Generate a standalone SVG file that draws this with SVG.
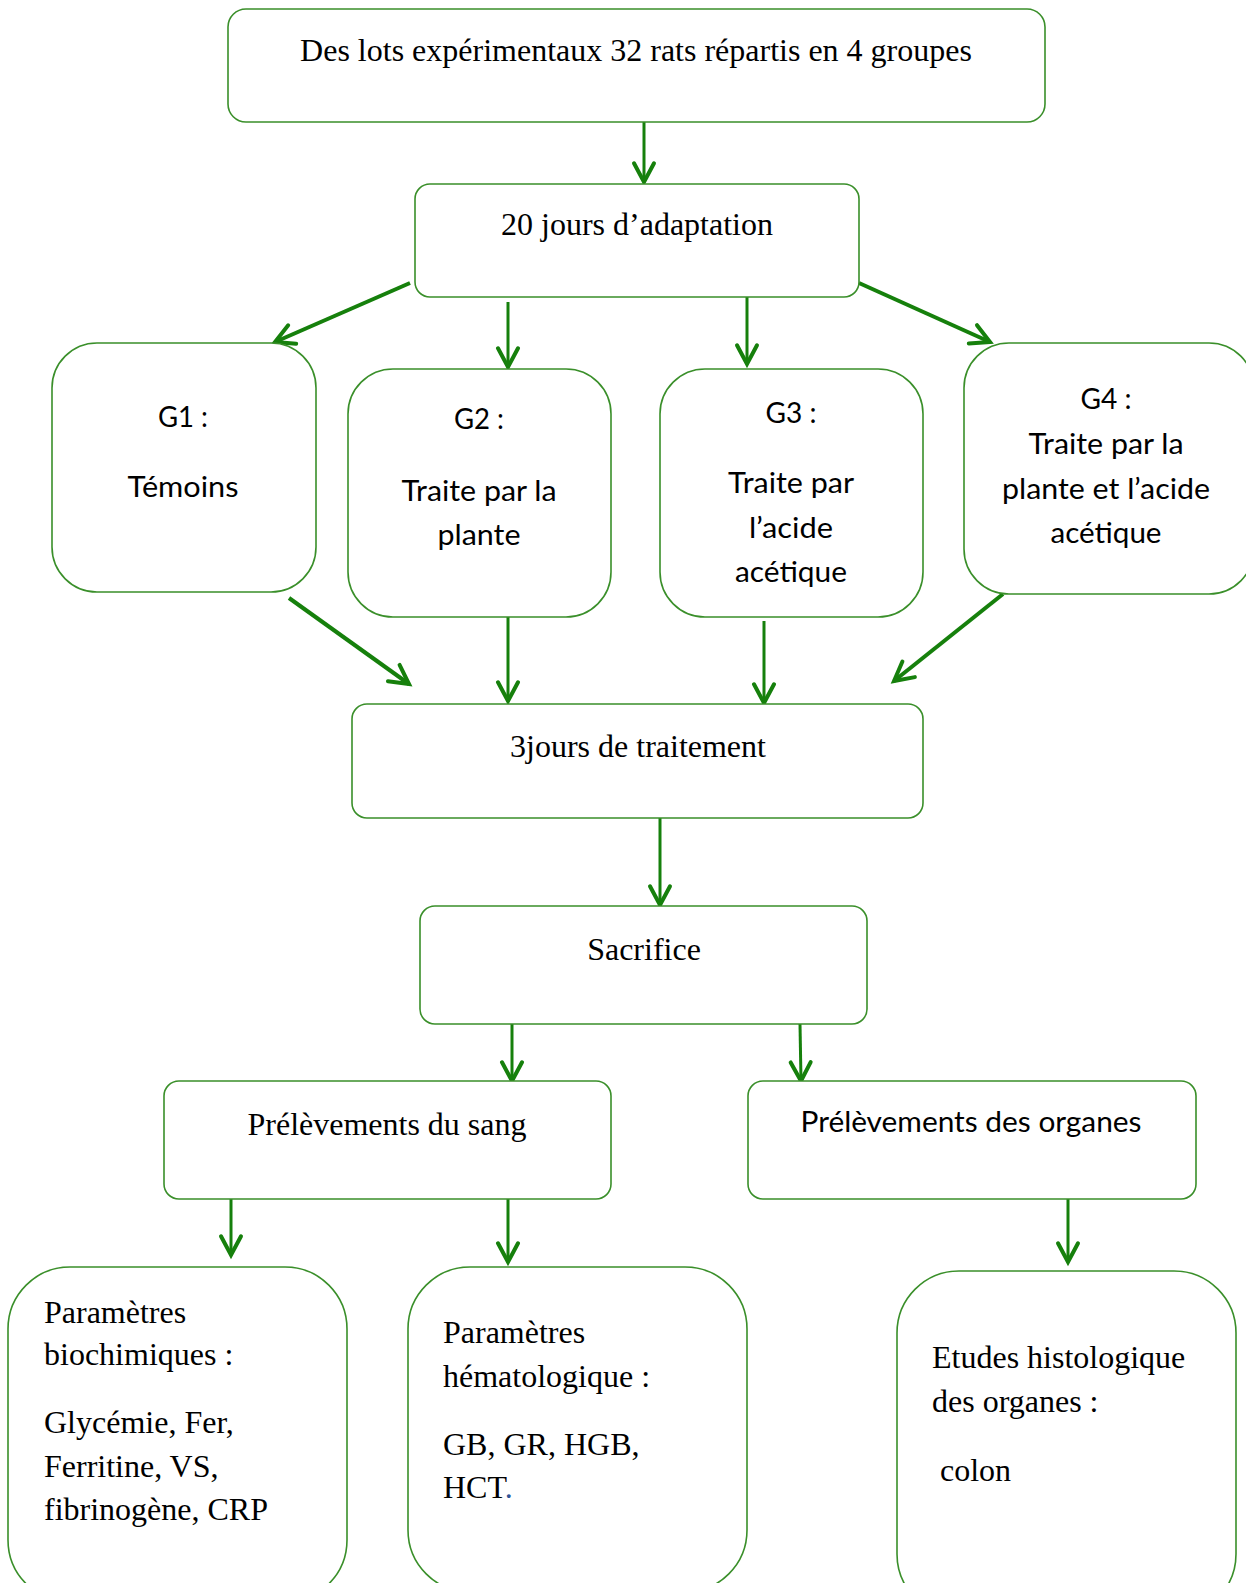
<svg xmlns="http://www.w3.org/2000/svg" width="1246" height="1583" viewBox="0 0 1246 1583">
<style>
.box{fill:#fff;stroke:#3a8f2a;stroke-width:1.6}
.serif{font-family:"Liberation Serif","Times New Roman",serif;font-size:32px;fill:#000}
.sans{font-family:Lato,"Noto Sans",sans-serif;font-size:29px;fill:#000}
.mid{text-anchor:middle}
.conn line{stroke:#16800c;stroke-width:3;fill:none}
.conn line.thick{stroke-width:4}
</style>
<defs>
<marker id="ah" markerUnits="userSpaceOnUse" markerWidth="30" markerHeight="30" viewBox="-18 -12 22 24" refX="0" refY="0" orient="auto">
<path d="M-15,-8 L0,0 L-15,8" fill="none" stroke="#16800c" stroke-width="3.2" stroke-linecap="round" stroke-linejoin="miter"/>
</marker>
</defs>
<rect width="1246" height="1583" fill="#fff"/>
<g class="conn">
<line x1="644" y1="122" x2="644" y2="182" marker-end="url(#ah)"/>
<line class="thick" x1="410" y1="283" x2="275" y2="342" marker-end="url(#ah)"/>
<line x1="508" y1="302" x2="508" y2="367" marker-end="url(#ah)"/>
<line x1="747" y1="294" x2="747" y2="364" marker-end="url(#ah)"/>
<line class="thick" x1="859" y1="283" x2="990" y2="342" marker-end="url(#ah)"/>
<line class="thick" x1="289" y1="598" x2="409" y2="684" marker-end="url(#ah)"/>
<line x1="508" y1="617" x2="508" y2="701" marker-end="url(#ah)"/>
<line x1="764" y1="621" x2="764" y2="703" marker-end="url(#ah)"/>
<line class="thick" x1="1003" y1="594" x2="894" y2="681" marker-end="url(#ah)"/>
<line x1="660" y1="818" x2="660" y2="905" marker-end="url(#ah)"/>
<line x1="512" y1="1024" x2="512" y2="1081" marker-end="url(#ah)"/>
<line x1="800" y1="1024" x2="801" y2="1081" marker-end="url(#ah)"/>
<line x1="231" y1="1199" x2="231" y2="1255" marker-end="url(#ah)"/>
<line x1="508" y1="1199" x2="508" y2="1262" marker-end="url(#ah)"/>
<line x1="1068" y1="1199" x2="1068" y2="1262" marker-end="url(#ah)"/>
</g>
<g id="n-lots">
<rect class="box" x="228" y="9" width="817" height="113" rx="18"/>
<text class="serif mid" x="636" y="61">Des lots expérimentaux 32 rats répartis en 4 groupes</text>
</g>
<g id="n-adaptation">
<rect class="box" x="415" y="184" width="444" height="113" rx="15"/>
<text class="serif mid" x="637" y="235">20 jours d’adaptation</text>
</g>
<g id="n-g1">
<rect class="box" x="52" y="343" width="264" height="249" rx="45"/>
<text class="sans mid" x="183" y="427" textLength="50" lengthAdjust="spacingAndGlyphs">G1 :</text>
<text class="sans mid" x="183" y="497" textLength="111" lengthAdjust="spacingAndGlyphs">Témoins</text>
</g>
<g id="n-g2">
<rect class="box" x="348" y="369" width="263" height="248" rx="45"/>
<text class="sans mid" x="479" y="429" textLength="50" lengthAdjust="spacingAndGlyphs">G2 :</text>
<text class="sans mid" x="479" y="501" textLength="155" lengthAdjust="spacingAndGlyphs">Traite par la</text>
<text class="sans mid" x="479" y="545" textLength="83" lengthAdjust="spacingAndGlyphs">plante</text>
</g>
<g id="n-g3">
<rect class="box" x="660" y="369" width="263" height="248" rx="45"/>
<text class="sans mid" x="791" y="423" textLength="51" lengthAdjust="spacingAndGlyphs">G3 :</text>
<text class="sans mid" x="791" y="493" textLength="126" lengthAdjust="spacingAndGlyphs">Traite par</text>
<text class="sans mid" x="791" y="538" textLength="84" lengthAdjust="spacingAndGlyphs">l’acide</text>
<text class="sans mid" x="791" y="582" textLength="112" lengthAdjust="spacingAndGlyphs">acétique</text>
</g>
<g id="n-g4">
<rect class="box" x="964" y="343" width="290" height="251" rx="45"/>
<text class="sans mid" x="1106" y="409" textLength="51" lengthAdjust="spacingAndGlyphs">G4 :</text>
<text class="sans mid" x="1106" y="454" textLength="155" lengthAdjust="spacingAndGlyphs">Traite par la</text>
<text class="sans mid" x="1106" y="499" textLength="208" lengthAdjust="spacingAndGlyphs">plante et l’acide</text>
<text class="sans mid" x="1106" y="543" textLength="111" lengthAdjust="spacingAndGlyphs">acétique</text>
</g>
<g id="n-traitement">
<rect class="box" x="352" y="704" width="571" height="114" rx="15"/>
<text class="serif mid" x="638" y="757">3jours de traitement</text>
</g>
<g id="n-sacrifice">
<rect class="box" x="420" y="906" width="447" height="118" rx="15"/>
<text class="serif mid" x="644" y="960">Sacrifice</text>
</g>
<g id="n-sang">
<rect class="box" x="164" y="1081" width="447" height="118" rx="15"/>
<text class="serif mid" x="387" y="1135">Prélèvements du sang</text>
</g>
<g id="n-organes">
<rect class="box" x="748" y="1081" width="448" height="118" rx="15"/>
<text class="sans mid" x="971" y="1132" textLength="341" lengthAdjust="spacingAndGlyphs">Prélèvements des organes</text>
</g>
<g id="n-biochimiques">
<rect class="box" x="8" y="1267" width="339" height="335" rx="62"/>
<text class="serif" x="44" y="1323">Paramètres</text>
<text class="serif" x="44" y="1365">biochimiques :</text>
<text class="serif" x="44" y="1433">Glycémie, Fer,</text>
<text class="serif" x="44" y="1477">Ferritine, VS,</text>
<text class="serif" x="44" y="1520">fibrinogène, CRP</text>
</g>
<g id="n-hematologique">
<rect class="box" x="408" y="1267" width="339" height="325" rx="62"/>
<text class="serif" x="443" y="1343">Paramètres</text>
<text class="serif" x="443" y="1387">hématologique :</text>
<text class="serif" x="443" y="1455">GB, GR, HGB,</text>
<text class="serif" x="443" y="1498">HCT<tspan fill="#2f5597">.</tspan></text>
</g>
<g id="n-histologique">
<rect class="box" x="897" y="1271" width="339" height="345" rx="62"/>
<text class="serif" x="932" y="1368">Etudes histologique</text>
<text class="serif" x="932" y="1412">des organes :</text>
<text class="serif" x="932" y="1481" xml:space="preserve"> colon</text>
</g>
</svg>
